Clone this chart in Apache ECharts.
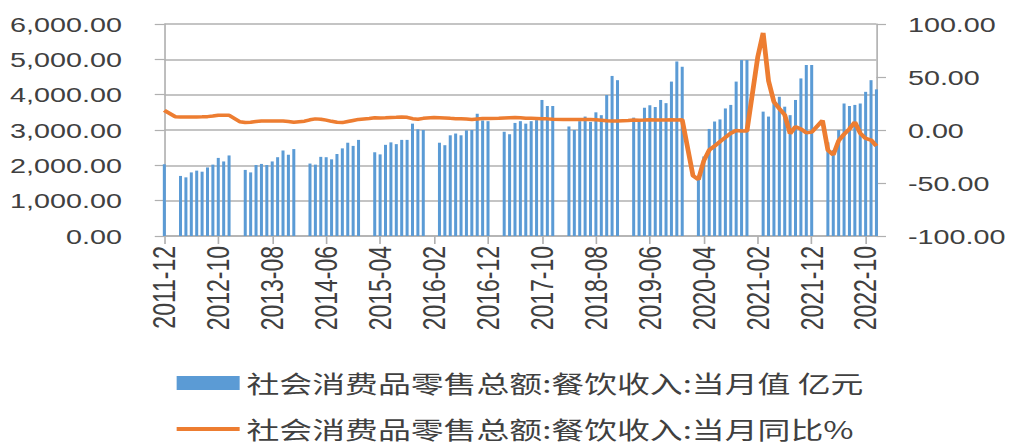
<!DOCTYPE html>
<html>
<head>
<meta charset="utf-8">
<script src="https://cdn.jsdelivr.net/npm/echarts@6/dist/echarts.min.js"></script>
<style>
html, body { margin: 0; padding: 0; background: #fff; overflow: hidden; }
/* the source picture is stretched sideways, so the chart is drawn narrow and widened */
#main { width: 739px; height: 448px; transform: scaleX(1.36942); transform-origin: 0 0; }
</style>
</head>
<body>
<div id="main"></div>
<script>
// 当月值 亿元 (Jan & Feb not reported)
var sales2011 = [2030];
var sales2012 = [null, null, 1700, 1660, 1800, 1850, 1820, 1940, 2020, 2210, 2110, 2280];
var sales2013 = [null, null, 1870, 1800, 2010, 2040, 2010, 2110, 2230, 2420, 2300, 2460];
var sales2014 = [null, null, 2050, 2020, 2240, 2230, 2170, 2320, 2480, 2640, 2550, 2720];
var sales2015 = [null, null, 2370, 2310, 2580, 2650, 2600, 2720, 2720, 3180, 3020, 3000];
var sales2016 = [null, null, 2640, 2570, 2850, 2900, 2850, 2990, 3000, 3460, 3270, 3250];
var sales2017 = [null, null, 2950, 2880, 3200, 3250, 3180, 3250, 3280, 3850, 3680, 3680];
var sales2018 = [null, null, 3100, 3000, 3250, 3380, 3230, 3500, 3420, 3990, 4530, 4410];
var sales2019 = [null, null, 3350, 3250, 3630, 3700, 3650, 3850, 3760, 4370, 4940, 4790];
var sales2020 = [null, null, 1700, 2250, 3030, 3240, 3300, 3610, 3710, 4370, 4980, 4980];
var sales2021 = [null, null, 3520, 3380, 3850, 3940, 3660, 3420, 3850, 4460, 4840, 4840];
var sales2022 = [null, null, 2650, 2430, 3000, 3750, 3680, 3710, 3750, 4080, 4410, 4150];

// 当月同比 % (Jan not reported, Feb = Jan-Feb)
var yoy2011 = [18.6];
var yoy2012 = [null, 12.6, 12.3, 12.3, 12.2, 12.3, 12.4, 12.6, 13.2, 13.9, 13.9, 13.9];
var yoy2013 = [null, 7.8, 7.0, 7.3, 8.0, 8.4, 8.5, 8.6, 8.5, 8.4, 8.0, 7.4];
var yoy2014 = [null, 8.3, 9.6, 10.5, 10.2, 9.3, 8.2, 7.3, 7.0, 8.0, 9.0, 10.0];
var yoy2015 = [null, 10.9, 11.5, 11.3, 11.5, 11.8, 12.0, 12.3, 12.0, 10.7, 10.2, 11.0];
var yoy2016 = [null, 11.7, 11.6, 11.4, 11.0, 10.7, 10.5, 10.3, 10.0, 10.4, 10.8, 10.9];
var yoy2017 = [null, 11.0, 11.3, 11.5, 11.7, 11.5, 11.1, 11.0, 10.9, 10.7, 10.5, 10.2];
var yoy2018 = [null, 10.0, 9.8, 10.0, 9.9, 9.8, 9.8, 9.6, 9.3, 8.8, 8.5, 8.6];
var yoy2019 = [null, 9.0, 9.5, 9.3, 9.4, 9.6, 9.4, 9.5, 9.5, 9.6, 9.5, 9.6];
var yoy2020 = [null, -43.1, -46.8, -29.0, -18.9, -15.2, -11.0, -7.0, -3.0, -0.5, -1.0, -1.0];
var yoy2021 = [null, 68.9, 91.6, 46.4, 26.6, 20.2, 14.3, -3.5, 3.1, 1.0, -2.7, -2.0];
var yoy2022 = [null, 9.0, -19.0, -23.5, -10.0, -4.0, 1.0, 7.5, -3.0, -8.0, -9.5, -15.0];

var years = [2012, 2013, 2014, 2015, 2016, 2017, 2018, 2019, 2020, 2021, 2022];
var months = ['01', '02', '03', '04', '05', '06', '07', '08', '09', '10', '11', '12'];

var categories = ['2011-12'];
for (var i = 0; i < years.length; i++) {
	for (var j = 0; j < months.length; j++) {
		categories.push(years[i] + '-' + months[j]);
	}
}
var salesData = [].concat(sales2011, sales2012, sales2013, sales2014, sales2015, sales2016,
	sales2017, sales2018, sales2019, sales2020, sales2021, sales2022);
var yoyData = [].concat(yoy2011, yoy2012, yoy2013, yoy2014, yoy2015, yoy2016,
	yoy2017, yoy2018, yoy2019, yoy2020, yoy2021, yoy2022);

var barName = '社会消费品零售总额:餐饮收入:当月值 亿元';
var lineName = '社会消费品零售总额:餐饮收入:当月同比%';
var textColor = '#404040';
var gridColor = '#b0b0b0';
var numFont = 'Liberation Sans';

function thousands(v) {
	return v.toFixed(2).replace(/\B(?=(\d{3})+(?!\d))/g, ',');
}

var chart = echarts.init(document.getElementById('main'), null, {renderer: 'svg'});
chart.setOption({
	animation: false,
	backgroundColor: '#fff',
	grid: {left: 120, right: 99, top: 24, bottom: 212, containLabel: false},
	legend: {
		orient: 'vertical',
		left: 129,
		top: 370,
		padding: 0,
		height: 76,
		itemWidth: 46,
		itemHeight: 14,
		itemGap: 20,
		textStyle: {fontFamily: 'Noto Sans CJK SC', fontSize: 24, lineHeight: 26, color: textColor},
		data: [
			{name: barName, icon: 'rect'},
			{name: lineName, icon: 'path://M0,0L46,0L46,3.8L0,3.8Z'}
		]
	},
	xAxis: {
		type: 'category',
		data: categories,
		boundaryGap: false,
		axisLine: {lineStyle: {color: gridColor, width: 1.5}},
		axisTick: {interval: 9, length: 8, lineStyle: {color: gridColor, width: 1.2}},
		axisLabel: {
			interval: 9,
			rotate: 90,
			margin: 10,
			fontFamily: numFont,
			fontSize: 23,
			color: textColor
		},
		splitLine: {show: false}
	},
	yAxis: [
		{
			type: 'value',
			min: 0,
			max: 6000,
			interval: 1000,
			axisLine: {show: true, lineStyle: {color: gridColor, width: 1.2}},
			axisTick: {show: true, length: 7, lineStyle: {color: gridColor, width: 1.2}},
			axisLabel: {margin: 31, fontFamily: numFont, fontSize: 21, color: textColor, formatter: thousands},
			splitLine: {show: true, lineStyle: {color: gridColor, width: 1.5}}
		},
		{
			type: 'value',
			min: -100,
			max: 100,
			interval: 50,
			position: 'right',
			axisLine: {show: true, lineStyle: {color: gridColor, width: 1.2}},
			axisTick: {show: true, length: 7, lineStyle: {color: gridColor, width: 1.2}},
			axisLabel: {margin: 23, fontFamily: numFont, fontSize: 21, color: textColor,
				formatter: function (v) { return v.toFixed(2); }},
			splitLine: {show: false}
		}
	],
	series: [
		{
			name: barName,
			type: 'bar',
			yAxisIndex: 0,
			barWidth: 2.2,
			itemStyle: {color: '#5b9bd5'},
			data: salesData
		},
		{
			name: lineName,
			type: 'line',
			yAxisIndex: 1,
			symbol: 'none',
			connectNulls: true,
			lineStyle: {color: '#ed7d31', width: 3.5},
			itemStyle: {color: '#ed7d31'},
			data: yoyData
		}
	]
});
</script>
</body>
</html>
